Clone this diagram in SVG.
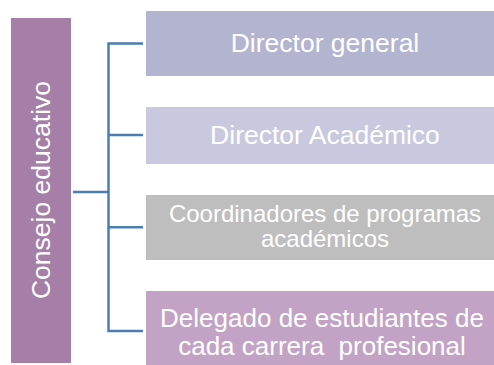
<svg xmlns="http://www.w3.org/2000/svg" width="494" height="365" viewBox="0 0 494 365">
<style>
.t{font-family:"Liberation Sans",Arial,sans-serif;fill:#ffffff;text-anchor:middle}
.c{fill:none;stroke:#4A7DB0;stroke-width:2.5}
</style>
<rect width="494" height="365" fill="#ffffff"/>
<g id="connectors">
<path class="c" d="M108.5 43.5V331M107.3 43.5H143M108.5 135H143M108.5 227.3H143M107.3 331H143M73 192H108.5"/>
</g>
<g id="consejo">
<rect x="11" y="18" width="60" height="345" fill="#A57FA8"/>
<text class="t" font-size="26.5" transform="translate(50,190) rotate(-90)">Consejo educativo</text>
</g>
<g id="director-general">
<rect x="146" y="11" width="348" height="65" fill="#B3B4D0"/>
<text class="t" font-size="26.5" x="325" y="52">Director general</text>
</g>
<g id="director-academico">
<rect x="146" y="107" width="348" height="57" fill="#C8C9DE"/>
<text class="t" font-size="26.5" x="325" y="144">Director Académico</text>
</g>
<g id="coordinadores">
<rect x="146" y="195" width="348" height="65" fill="#BEBEBE"/>
<text class="t" font-size="24" x="325" y="222">Coordinadores de programas</text>
<text class="t" font-size="24" x="325" y="247">académicos</text>
</g>
<g id="delegado">
<rect x="146" y="291" width="348" height="74" fill="#C2A3C6"/>
<text class="t" font-size="26" x="322" y="327">Delegado de estudiantes de</text>
<text class="t" font-size="26" x="322" y="355" xml:space="preserve" style="white-space:pre">cada carrera  profesional</text>
</g>
</svg>
